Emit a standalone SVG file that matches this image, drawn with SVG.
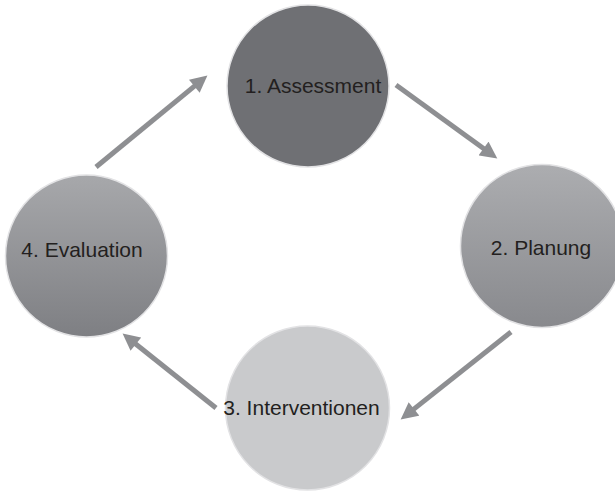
<svg xmlns="http://www.w3.org/2000/svg" width="615" height="491" viewBox="0 0 615 491">
<defs>
<style>
.lbl{font-family:"Liberation Sans",Arial,sans-serif;font-size:21px;fill:#231f20;text-anchor:middle}
.conn{stroke:#8e8f92;stroke-width:5;fill:none;marker-end:url(#ah)}
.node circle{stroke:#e2e2e4;stroke-width:1.5}
</style>
<marker id="ah" viewBox="0 0 10 10" refX="2" refY="5" markerWidth="18" markerHeight="17" markerUnits="userSpaceOnUse" orient="auto">
<path d="M0,0 L10,5 L0,10 Z" fill="#8e8f92"/>
</marker>
<linearGradient id="g2" x1="0" y1="0" x2="0" y2="1">
<stop offset="0" stop-color="#acadb0"/>
<stop offset="1" stop-color="#88898d"/>
</linearGradient>
<linearGradient id="g4" x1="0" y1="0" x2="0" y2="1">
<stop offset="0" stop-color="#a7a8ab"/>
<stop offset="1" stop-color="#7e7f83"/>
</linearGradient>
</defs>
<rect width="615" height="491" fill="#ffffff"/>
<g id="connectors">
<line class="conn" x1="396" y1="85" x2="486.3" y2="150.5"/>
<line class="conn" x1="511" y1="332" x2="411.3" y2="411.1"/>
<line class="conn" x1="216" y1="408" x2="133.2" y2="342"/>
<line class="conn" x1="96" y1="167" x2="196.9" y2="84.1"/>
</g>
<g id="n1" class="node">
<circle cx="308" cy="86" r="81" fill="#6f7074"/>
<text class="lbl" x="313" y="93">1. Assessment</text>
</g>
<g id="n2" class="node">
<circle cx="542" cy="246" r="81.5" fill="url(#g2)"/>
<text class="lbl" x="541" y="255">2. Planung</text>
</g>
<g id="n3" class="node">
<circle cx="307.5" cy="408" r="82" fill="#c9cacc"/>
<text class="lbl" x="301.5" y="415">3. Interventionen</text>
</g>
<g id="n4" class="node">
<circle cx="86.5" cy="256" r="81" fill="url(#g4)"/>
<text class="lbl" x="82" y="257">4. Evaluation</text>
</g>
</svg>
